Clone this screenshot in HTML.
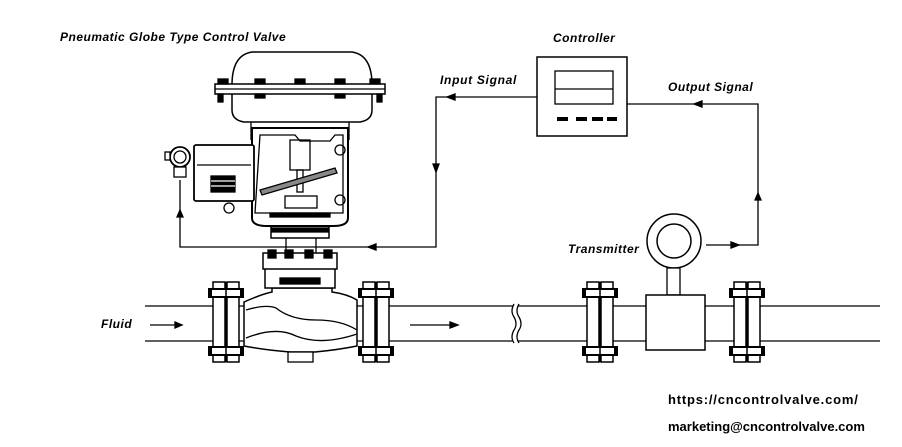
<!DOCTYPE html>
<html><head><style>body{margin:0;background:#fff}svg{display:block}text{font-family:"Liberation Sans",sans-serif;font-weight:bold;font-style:italic;font-size:12px;letter-spacing:0.5px}</style></head><body>
<svg width="902" height="447" viewBox="0 0 902 447" xmlns="http://www.w3.org/2000/svg" fill="none" stroke="#000" stroke-width="1.3">
<text x="60" y="41" fill="#000" stroke="none">Pneumatic Globe Type Control Valve</text>
<text x="553" y="42" fill="#000" stroke="none">Controller</text>
<text x="440" y="84" fill="#000" stroke="none" style="letter-spacing:0.7px">Input Signal</text>
<text x="668" y="91" fill="#000" stroke="none">Output Signal</text>
<text x="568" y="253" fill="#000" stroke="none">Transmitter</text>
<text x="101" y="328" fill="#000" stroke="none">Fluid</text>
<text x="668" y="404" fill="#000" stroke="none" style="font-style:normal;font-size:13px;letter-spacing:0.8px">https://cncontrolvalve.com/</text>
<text x="668" y="431" fill="#000" stroke="none" style="font-style:normal;font-size:13px;letter-spacing:0">marketing@cncontrolvalve.com</text>
<!-- pipe -->
<line x1="145" y1="306" x2="880" y2="306"/><line x1="145" y1="341" x2="880" y2="341"/>
<path d="M517 303 q-5 8 0 14 q5 8 0 14 q-5 8 0 14" stroke="#fff" stroke-width="5"/>
<path d="M514 304 q-4 7 0 13 q4 7 0 13 q-4 7 0 13"/><path d="M519 304 q-4 7 0 13 q4 7 0 13 q-4 7 0 13"/>
<!-- flow arrows -->
<line x1="150" y1="325" x2="180" y2="325"/><path d="M182 325 l-7 -3 v6z" fill="#000"/>
<line x1="410" y1="325" x2="455" y2="325"/><path d="M458 325 l-8 -3 v6z" fill="#000"/>
<!-- valve body -->
<path d="M244 302 q18 -8 28 -10 v-4 h60 v4 q15 2 25 8 v46 q-20 4 -42 6 h-25 q-25 -2 -46 -6 z" fill="#fff" stroke-width="1.5"/>
<path d="M246 310 q20 -6 30 -2 q15 12 40 12 q25 0 41 10 M246 338 q30 -12 50 -2 q25 10 61 -2"/>
<rect x="288" y="352" width="25" height="10" fill="#fff"/>
<!-- flanges -->
<g fill="#fff" stroke-width="1.5">
<rect x="213" y="282" width="12" height="80"/><rect x="227" y="282" width="12" height="80"/>
<rect x="363" y="282" width="12" height="80"/><rect x="377" y="282" width="12" height="80"/>
<rect x="587" y="282" width="12" height="80"/><rect x="601" y="282" width="12" height="80"/>
<rect x="734" y="282" width="12" height="80"/><rect x="748" y="282" width="12" height="80"/>
</g>
<g fill="#000" stroke="none">
<rect x="208" y="288" width="36" height="10"/><rect x="208" y="346" width="36" height="10"/>
<rect x="358" y="288" width="36" height="10"/><rect x="358" y="346" width="36" height="10"/>
<rect x="582" y="288" width="36" height="10"/><rect x="582" y="346" width="36" height="10"/>
<rect x="729" y="288" width="36" height="10"/><rect x="729" y="346" width="36" height="10"/>
</g>
<g fill="#fff" stroke="none"><rect x="212" y="290" width="28" height="6"/><rect x="212" y="348" width="28" height="6"/><rect x="362" y="290" width="28" height="6"/><rect x="362" y="348" width="28" height="6"/><rect x="586" y="290" width="28" height="6"/><rect x="586" y="348" width="28" height="6"/><rect x="733" y="290" width="28" height="6"/><rect x="733" y="348" width="28" height="6"/></g>
<g stroke-width="1.5"><line x1="226" y1="282" x2="226" y2="362"/><line x1="376" y1="282" x2="376" y2="362"/><line x1="600" y1="282" x2="600" y2="362"/><line x1="747" y1="282" x2="747" y2="362"/></g>
<!-- bonnet -->
<rect x="265" y="268" width="70" height="20" fill="#fff" stroke-width="1.5"/>
<rect x="280" y="278" width="40" height="6" fill="#000"/>
<rect x="263" y="253" width="74" height="16" fill="#fff" stroke-width="1.5"/>
<g fill="#000"><rect x="268" y="250" width="8" height="8"/><rect x="285" y="250" width="8" height="8"/><rect x="305" y="250" width="8" height="8"/><rect x="324" y="250" width="8" height="8"/></g>
<line x1="286" y1="238" x2="286" y2="253"/><line x1="316" y1="238" x2="316" y2="253"/>
<rect x="271" y="225" width="58" height="13" fill="#fff" stroke-width="1.5"/><rect x="272" y="228" width="56" height="4" fill="#000"/>
<!-- yoke -->
<path d="M252 128 h96 v90 q0 8 -15 8 h-66 q-15 0 -15 -8 z" fill="#fff" stroke-width="2"/>
<path d="M260 135 h35 l5 6 h30 l5 -6 h8 v78 h-88 z"/>
<rect x="290" y="140" width="20" height="30"/><rect x="297" y="170" width="6" height="22"/>
<path d="M260 190 l75 -22 l2 5 l-75 22 z" fill="#888"/>
<rect x="285" y="196" width="32" height="12" fill="#fff"/><rect x="270" y="213" width="60" height="4" fill="#000"/>
<circle cx="340" cy="150" r="5"/><circle cx="340" cy="200" r="5"/>
<!-- actuator -->
<path d="M232 85 q0 -30 20 -33 h100 q20 3 20 33 v25 q0 10 -12 12 h-116 q-12 -2 -12 -12z" fill="#fff" stroke-width="1.5"/>
<rect x="215" y="84" width="170" height="10" fill="#fff" stroke-width="1.5"/><line x1="215" y1="89" x2="385" y2="89"/>
<g fill="#000"><rect x="218" y="79" width="10" height="5"/><rect x="255" y="79" width="10" height="5"/><rect x="295" y="79" width="10" height="5"/><rect x="335" y="79" width="10" height="5"/><rect x="370" y="79" width="10" height="5"/><rect x="218" y="94" width="5" height="8"/><rect x="377" y="94" width="5" height="8"/><rect x="255" y="94" width="10" height="4"/><rect x="335" y="94" width="10" height="4"/></g>
<line x1="251" y1="122" x2="251" y2="140"/><line x1="349" y1="122" x2="349" y2="140"/>
<!-- positioner -->
<rect x="194" y="145" width="60" height="56" rx="2" fill="#fff" stroke-width="1.8"/><line x1="197" y1="165" x2="251" y2="165"/>
<rect x="211" y="176" width="24" height="16" fill="#000"/><line x1="211" y1="181" x2="235" y2="181" stroke="#fff"/><line x1="211" y1="186" x2="235" y2="186" stroke="#fff"/>
<circle cx="229" cy="208" r="5"/>
<circle cx="180" cy="157" r="10" fill="#fff" stroke-width="1.8"/><circle cx="180" cy="157" r="6"/><rect x="174" y="167" width="12" height="10" fill="#fff"/><rect x="165" y="152" width="5" height="8" fill="#fff"/>
<!-- controller -->
<rect x="537" y="57" width="90" height="79" stroke-width="1.5"/>
<rect x="555" y="71" width="58" height="33"/><line x1="555" y1="89" x2="613" y2="89"/>
<g fill="#000" stroke="none"><rect x="557" y="117" width="11" height="4"/><rect x="576" y="117" width="11" height="4"/><rect x="592" y="117" width="11" height="4"/><rect x="607" y="117" width="10" height="4"/></g>
<!-- signal lines -->
<polyline points="537,97 436,97 436,247 180,247 180,180"/>
<path d="M447 97 l8 -3 v6z M436 172 l-3 -8 h6z M368 247 l8 -3 v6z M180 210 l-3 7 h6z" fill="#000"/>
<polyline points="627,104 758,104 758,245 706,245"/>
<path d="M694 104 l8 -3 v6z M758 193 l-3 7 h6z M739 245 l-8 -3 v6z" fill="#000"/>
<!-- transmitter -->
<circle cx="674" cy="241" r="27" stroke-width="1.5"/><circle cx="674" cy="241" r="17" stroke-width="1.5"/>
<rect x="667" y="268" width="13" height="27" fill="#fff"/>
<rect x="646" y="295" width="59" height="55" fill="#fff" stroke-width="1.5"/>
</svg>
</body></html>
